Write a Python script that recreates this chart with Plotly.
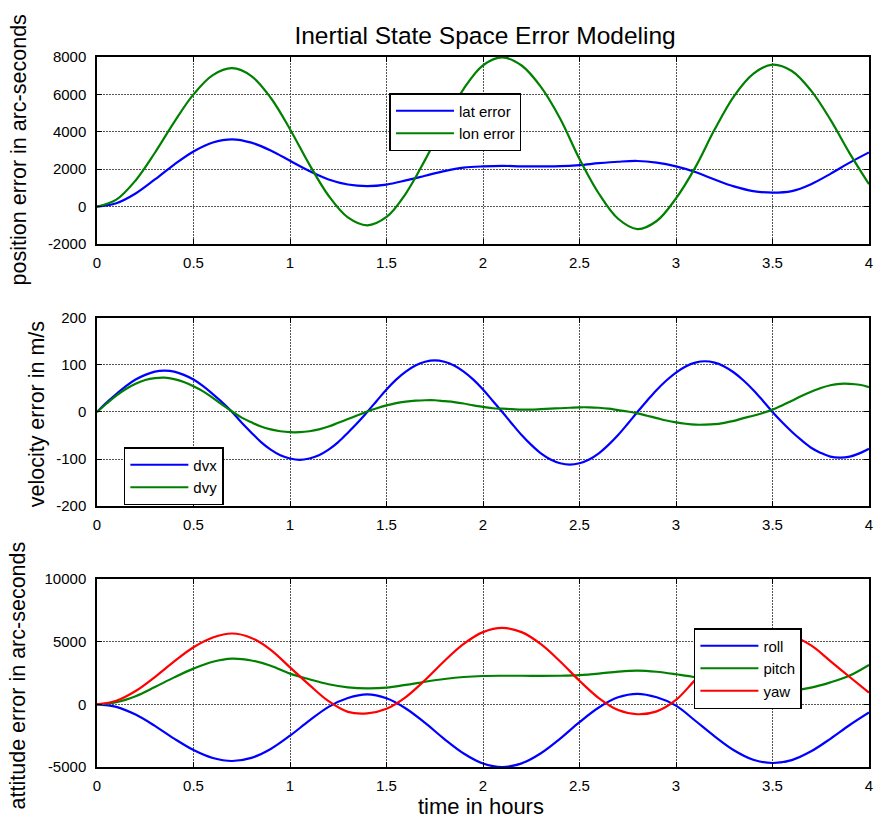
import plotly.graph_objects as go

# ---- time grids (hours) ----
HOURS = [0.0, 0.1, 0.2, 0.3, 0.4, 0.5, 0.6, 0.7, 0.8, 0.9,
         1.0, 1.1, 1.2, 1.3, 1.4, 1.5, 1.6, 1.7, 1.8, 1.9,
         2.0, 2.1, 2.2, 2.3, 2.4, 2.5, 2.6, 2.7, 2.8, 2.9,
         3.0, 3.1, 3.2, 3.3, 3.4, 3.5, 3.6, 3.7, 3.8, 3.9, 4.0]

HOURS_FINE = [0.0, 0.05, 0.1, 0.15, 0.2, 0.25, 0.3, 0.35, 0.4, 0.45,
              0.5, 0.55, 0.6, 0.65, 0.7, 0.75, 0.8, 0.85, 0.9, 0.95,
              1.0, 1.05, 1.1, 1.15, 1.2, 1.25, 1.3, 1.35, 1.4, 1.45,
              1.5, 1.55, 1.6, 1.65, 1.7, 1.75, 1.8, 1.85, 1.9, 1.95,
              2.0, 2.05, 2.1, 2.15, 2.2, 2.25, 2.3, 2.35, 2.4, 2.45,
              2.5, 2.55, 2.6, 2.65, 2.7, 2.75, 2.8, 2.85, 2.9, 2.95,
              3.0, 3.05, 3.1, 3.15, 3.2, 3.25, 3.3, 3.35, 3.4, 3.45,
              3.5, 3.55, 3.6, 3.65, 3.7, 3.75, 3.8, 3.85, 3.9, 3.95, 4.0]

# ---- position error (arc-seconds) ----
lat_error = [0, 180, 700, 1450, 2250, 2950, 3430, 3600, 3420, 3000,
             2450, 1900, 1450, 1180, 1100, 1180, 1400, 1650, 1900, 2080,
             2150, 2180, 2150, 2150, 2160, 2220, 2320, 2400, 2440, 2350,
             2150, 1850, 1450, 1080, 830, 750, 830, 1200, 1750, 2350, 2900]

lon_error = [0, 370, 1400, 2880, 4520, 6000, 7030, 7400, 6980, 5820,
             4140, 2260, 580, -580, -1000, -555, 700, 2500, 4500, 6300,
             7555, 7980, 7545, 6400, 4700, 2550, 700, -650, -1200, -769,
             440, 2100, 4120, 5900, 7100, 7590, 7250, 6200, 4650, 2850, 1200]

# ---- velocity error (m/s) ----
dvx = [0, 20, 38, 55, 69, 79, 86, 88, 86, 79,
       69, 55, 38, 20, 0, -23, -44, -64, -80, -92,
       -99, -102, -99, -92, -80, -64, -44, -23, 0, 24,
       48, 69, 86, 99, 107, 110, 107, 99, 86, 69,
       48, 24, 0, -25, -49, -70, -88, -101, -109, -112,
       -109, -101, -88, -70, -49, -25, 0, 24, 47, 67,
       84, 97, 105, 108, 105, 97, 84, 67, 47, 24,
       0, -22, -42, -60, -76, -87, -95, -97, -95, -88, -78]

dvy = [0, 18, 35, 49, 60, 68, 72, 73, 70, 64,
       55, 44, 30, 15, 1, -12, -22, -31, -37, -41,
       -43, -43, -41, -37, -31, -23, -15, -7, 1, 8,
       14, 19, 22, 24, 25, 25, 23, 21, 18, 14,
       11, 8, 7, 6, 5, 5, 6, 7, 8, 9,
       10, 10, 9, 7, 4, 1, -3, -8, -13, -18,
       -22, -25, -27, -27, -26, -23, -19, -13, -8, -2,
       5, 14, 24, 34, 43, 51, 57, 60, 60, 58, 53]

# ---- attitude error (arc-seconds) ----
roll = [0, -200, -820, -1720, -2740, -3650, -4280, -4520, -4270, -3560,
        -2500, -1300, -200, 500, 790, 480, -330, -1480, -2770, -3920,
        -4720, -5000, -4710, -3900, -2730, -1420, -250, 560, 840, 560,
        -100, -1310, -2550, -3660, -4420, -4680, -4450, -3750, -2750, -1650, -650]

pitch = [0, 170, 650, 1380, 2150, 2850, 3400, 3650, 3500, 3080,
         2450, 2000, 1600, 1360, 1270, 1330, 1550, 1800, 2020, 2180,
         2260, 2280, 2280, 2270, 2280, 2330, 2450, 2610, 2690, 2600,
         2400, 2160, 1760, 1380, 1100, 1000, 1080, 1330, 1750, 2300, 3150]

yaw = [0, 280, 1060, 2180, 3420, 4550, 5330, 5650, 5300, 4350,
       2950, 1550, 250, -600, -720, -350, 580, 1940, 3460, 4820,
       5760, 6100, 5760, 4800, 3420, 1880, 500, -460, -790, -560,
       350, 1950, 3400, 4600, 5400, 5650, 5450, 4700, 3450, 2180, 930]

# ---- axis ticks ----
X_TICKS = [0, 0.5, 1, 1.5, 2, 2.5, 3, 3.5, 4]
POS_TICKS = [-2000, 0, 2000, 4000, 6000, 8000]
VEL_TICKS = [-200, -100, 0, 100, 200]
ATT_TICKS = [-5000, 0, 5000, 10000]

BLUE = "#0000ff"
GREEN = "#008000"
RED = "#ff0000"

FONT = "Liberation Sans, Arial, sans-serif"
LW = 2.2

fig = go.Figure()


def add(x, y, name, color, xa, ya, leg):
    fig.add_trace(go.Scatter(
        x=x, y=y, name=name, mode="lines",
        line=dict(color=color, width=LW, shape="spline", smoothing=1.0),
        xaxis=xa, yaxis=ya, legend=leg,
    ))


add(HOURS, lat_error, "lat error", BLUE, "x", "y", "legend")
add(HOURS, lon_error, "lon error", GREEN, "x", "y", "legend")
add(HOURS_FINE, dvx, "dvx", BLUE, "x2", "y2", "legend2")
add(HOURS_FINE, dvy, "dvy", GREEN, "x2", "y2", "legend2")
add(HOURS, roll, "roll", BLUE, "x3", "y3", "legend3")
add(HOURS, pitch, "pitch", GREEN, "x3", "y3", "legend3")
add(HOURS, yaw, "yaw", RED, "x3", "y3", "legend3")


def labels(vals):
    # plain hyphen-minus labels, no SI suffixes
    return [("%g" % v) for v in vals]


GRID = dict(showgrid=True, gridcolor="#555555", gridwidth=1, griddash="2px,1px")
AX = dict(showline=True, linecolor="black", linewidth=1.5, mirror="ticks",
          ticks="inside", ticklen=5, tickcolor="black", zeroline=False,
          tickfont=dict(family=FONT, size=15, color="black"), **GRID)

xcommon = dict(range=[0, 4], tickmode="array", tickvals=X_TICKS,
               ticktext=labels(X_TICKS), ticklabelstandoff=4, **AX)


def ycommon(ticks, rng):
    return dict(range=rng, tickmode="array", tickvals=ticks,
                ticktext=labels(ticks), ticklabelstandoff=6, **AX)


fig.update_layout(
    width=878, height=823,
    margin=dict(l=97, r=5, t=57, b=56),
    paper_bgcolor="white", plot_bgcolor="white",
    font=dict(family=FONT, color="black"),
    title=dict(text="Inertial State Space Error Modeling",
               x=0.5525, xanchor="center", y=1 - 35 / 823, yanchor="middle",
               font=dict(family=FONT, size=24.5, color="black")),
    xaxis=dict(anchor="y", **xcommon),
    xaxis2=dict(anchor="y2", **xcommon),
    xaxis3=dict(anchor="y3", **xcommon),
    yaxis=dict(domain=[0.7366, 1.0], anchor="x",
               **ycommon(POS_TICKS, [-2000, 8000])),
    yaxis2=dict(domain=[0.3676, 0.6324], anchor="x2",
                **ycommon(VEL_TICKS, [-200, 200])),
    yaxis3=dict(domain=[0.0, 0.2648], anchor="x3",
                **ycommon(ATT_TICKS, [-5000, 10000])),
    showlegend=True,
)

LEG = dict(bgcolor="white", bordercolor="black", borderwidth=1.5,
           font=dict(family=FONT, size=15, color="black"),
           xanchor="left", yanchor="top", tracegroupgap=0, itemwidth=58)

fig.update_layout(
    legend=dict(x=(391 - 97) / 776, y=(767 - 93) / 710, **LEG),
    legend2=dict(x=(124 - 97) / 776, y=(767 - 447) / 710, **LEG),
    legend3=dict(x=(697 - 97) / 776, y=(767 - 628) / 710, **LEG),
)

# y-axis titles and x-axis title
ylabels = [("position error in arc-seconds", 19, 150),
           ("velocity error in m/s", 37, 414),
           ("attitude error in arc-seconds", 18, 675)]
for text, px, py in ylabels:
    fig.add_annotation(text=text, textangle=-90, showarrow=False,
                       xref="paper", yref="paper",
                       x=(px - 97) / 776, y=(767 - py) / 710,
                       xanchor="center", yanchor="middle",
                       font=dict(family=FONT, size=21.5, color="black"))

fig.add_annotation(text="time in hours", showarrow=False,
                   xref="paper", yref="paper",
                   x=(483 - 97) / 776, y=(767 - 806) / 710,
                   xanchor="center", yanchor="middle",
                   font=dict(family=FONT, size=22, color="black"))

fig.write_html("out.html")
